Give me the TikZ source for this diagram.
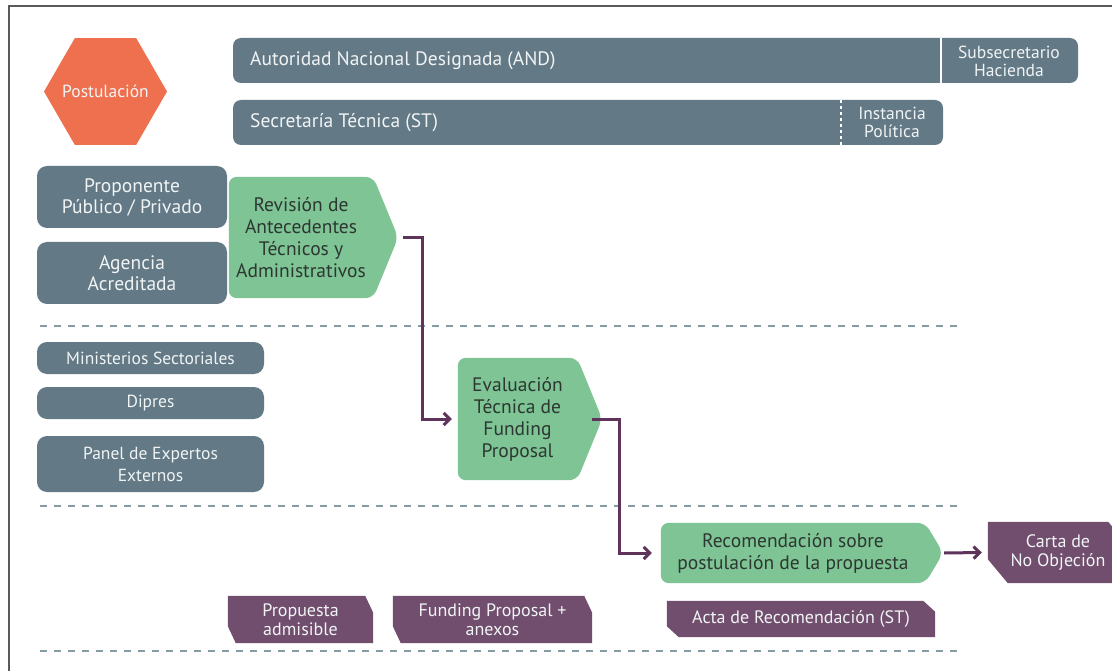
\documentclass[tikz,border=0pt]{standalone}
\usepackage{fontspec}
\setmainfont{PT Sans}
\usetikzlibrary{arrows.meta,shapes.geometric,backgrounds,calc}
\definecolor{slatec}{RGB}{99,121,134}
\definecolor{greenc}{RGB}{126,196,148}
\definecolor{purplec}{RGB}{113,78,110}
\definecolor{orangec}{RGB}{238,112,78}
\definecolor{arrowc}{RGB}{94,52,90}
\definecolor{dashc}{RGB}{135,155,165}
\definecolor{framec}{RGB}{90,90,90}
\definecolor{darktext}{RGB}{45,55,50}
\definecolor{lighttext}{RGB}{240,244,245}
\newcommand\ptag[3]{\fill[purplec] (#1.north west) -- ([xshift=-#2]#1.north east) -- ([yshift=-#3]#1.north east) -- (#1.south east) -- ([xshift=#2]#1.south west) -- ([yshift=#3]#1.south west) -- cycle;}
\newcommand\gshape[2]{\fill[greenc, rounded corners=8pt] (#1.west) -- (#1.north west) -- (#1.north east) -- ([xshift=#2]#1.east) -- (#1.south east) -- (#1.south west) -- cycle;}
\tikzset{
  graybox/.style={fill=slatec, rounded corners=10pt, text=lighttext, align=center, inner sep=0pt, font=\fontsize{19.5}{21}\selectfont},
  smallgray/.style={graybox, font=\fontsize{17.5}{22}\selectfont},
  bar/.style={fill=slatec, rounded corners=8pt, inner sep=0pt},
  bartext/.style={text=lighttext, inner sep=0pt, font=\fontsize{19.5}{20}\selectfont},
  barsmall/.style={text=lighttext, inner sep=0pt, align=center, font=\fontsize{17.5}{18}\selectfont},
  greenbody/.style={text=darktext, inner sep=0pt, align=center, font=\fontsize{19.5}{22}\selectfont},
  tagnode/.style={text=lighttext, inner sep=0pt, align=center, font=\fontsize{18}{19}\selectfont},
  arr/.style={draw=arrowc, line width=3pt, -{Straight Barb[length=6pt,width=12pt,line width=3pt]}},
  sep/.style={draw=dashc, line width=1.8pt, dash pattern=on 7pt off 7pt},
}
\begin{document}
\begin{tikzpicture}[x=1pt,y=-1pt]
\useasboundingbox (0,0) rectangle (1112,671);
\clip (0,0) rectangle (1112,671);
\draw[framec, line width=2pt] (9,680) -- (9,6) -- (1120,6);

% separators
\draw[sep] (40,326) -- (958,326);
\draw[sep] (40,506) -- (958,506);
\draw[sep] (40,651) -- (958,651);

% hexagon
\node[regular polygon, regular polygon sides=6, minimum size=123pt, inner sep=0pt, fill=orangec] (post) at (105.5,91.5) {};
\node[text=lighttext, inner sep=0pt, font=\fontsize{17.5}{18}\selectfont] (postt) at (post.center) {Postulación};

% top bars
\node[bar, minimum width=845pt, minimum height=45pt] (andbar) at (655.5,60.5) {};
\draw[white, line width=1.5pt] (941,38) -- (941,83);
\node[bartext, anchor=west] (andt) at (250,60.5) {Autoridad Nacional Designada (AND)};
\node[barsmall] (subs) at (1009,61) {Subsecretario\\Hacienda};

\node[bar, minimum width=710pt, minimum height=45pt] (stbar) at (588,122.5) {};
\draw[white, line width=1.5pt, dash pattern=on 3pt off 3pt] (841,100) -- (841,145);
\node[bartext, anchor=west] (stt) at (250,122.5) {Secretaría Técnica (ST)};
\node[barsmall] (inst) at (892,122.5) {Instancia\\Política};

% left gray boxes
\node[graybox, minimum width=190pt, minimum height=62pt] (prop) at (132,197) {Proponente\\Público / Privado};
\node[graybox, minimum width=190pt, minimum height=62pt] (agen) at (132,273) {Agencia\\Acreditada};
\node[smallgray, minimum width=227pt, minimum height=32pt] (mini) at (150.5,358) {Ministerios Sectoriales};
\node[smallgray, minimum width=227pt, minimum height=32pt] (dipr) at (150.5,403) {Dipres};
\node[smallgray, minimum width=227pt, minimum height=56pt] (panel) at (150.5,464) {Panel de Expertos\\Externos};

% green process shapes
\node[greenbody, minimum width=144pt, minimum height=121pt] (rev) at (301,237.5) {Revisión de\\Antecedentes\\Técnicos y\\Administrativos};
\node[greenbody, minimum width=119pt, minimum height=122pt] (ev) at (517.5,419) {Evaluación\\Técnica de\\Funding\\Proposal};
\node[greenbody, minimum width=264pt, minimum height=60pt] (rec) at (793,553) {Recomendación sobre\\postulación de la propuesta};

% purple tags
\node[tagnode, minimum width=145pt, minimum height=47pt] (adm) at (300.5,619.5) {Propuesta\\admisible};
\node[tagnode, minimum width=199pt, minimum height=47pt] (fund) at (492.5,619.5) {Funding Proposal +\\anexos};
\node[tagnode, minimum width=268pt, minimum height=36pt] (acta) at (801,619) {Acta de Recomendación (ST)};
\node[tagnode, minimum width=140pt, minimum height=61pt] (carta) at (1058,552.5) {Carta de\\No Objeción};

\begin{scope}[on background layer]
\fill[white] (0,0) rectangle (1112,671);
\gshape{rev}{25}
\gshape{ev}{25}
\gshape{rec}{18}
\ptag{adm}{8}{17}
\ptag{fund}{8}{17}
\ptag{acta}{12}{11}
\ptag{carta}{20}{24}
\end{scope}

% connectors
\draw[arr] ([xshift=30pt]rev.east) -- ++(19,0) |- ([xshift=-6pt]ev.west);
\draw[arr] ([xshift=15pt]ev.east) -- ++(27,0) |- ([xshift=-9pt]rec.west);
\draw[arr] ([xshift=19pt]rec.east) -- ([xshift=-6pt]carta.west);
\end{tikzpicture}
\end{document}
